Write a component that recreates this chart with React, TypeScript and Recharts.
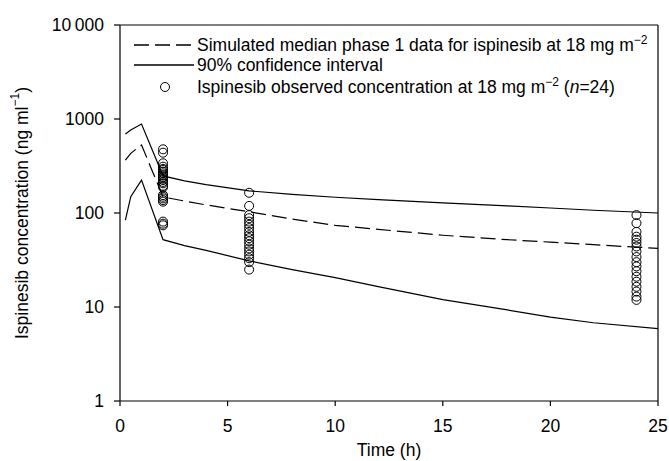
import { ComposedChart, Line, Scatter, XAxis, YAxis, ReferenceLine } from 'recharts';

// simulated profile (median + 90% CI), ng/ml vs hours
const simTimes = [0.25, 0.5, 1, 2, 3, 4, 6, 8, 10, 12, 15, 18, 20, 22, 25];
const medianConc = [366, 431, 530, 148, 134, 122, 103, 86, 74, 67, 58, 52, 49, 46, 42];
const upperConc = [692, 764, 885, 248, 220, 200, 172, 158, 147, 139, 128, 119, 113, 107, 100];
const lowerConc = [84, 149, 224, 52, 45, 40, 31, 25, 20.5, 16.5, 12, 9.3, 7.8, 6.8, 5.9];

// observed concentrations
const obsAt2h = [476, 438, 338, 311, 295, 287, 275, 264, 252, 243, 233, 224, 214, 207, 195, 188, 155, 149, 143, 137, 132, 81, 77, 74];
const obsAt6h = [164, 119, 95, 88, 81, 75, 69, 63, 58, 54, 50, 46, 42, 39, 36, 33, 30, 25];
const obsAt24h = [95, 78, 63, 56, 52, 48, 44, 39, 34, 30, 27, 24, 21, 18.6, 16.4, 14.6, 12.9, 11.9];

const xTicks = [0, 5, 10, 15, 20, 25];
const yTicks = [1, 10, 100, 1000, 10000];

const FONT = '"Liberation Sans", Arial, Helvetica, sans-serif';
const FS = 17.5;

const simData = simTimes.map((t, i) => ({
  t,
  median: medianConc[i],
  upper: upperConc[i],
  lower: lowerConc[i],
}));

const obsData = [
  ...obsAt2h.map((c) => ({ t: 2, c })),
  ...obsAt6h.map((c) => ({ t: 6, c })),
  ...obsAt24h.map((c) => ({ t: 24, c })),
];

const fmtY = (v: number) => (v === 10000 ? '10\u2009000' : String(v));

const OpenCircle = (props: any) => (
  <circle cx={props.cx} cy={props.cy} r={4.5} fill="none" stroke="#000" strokeWidth={1} />
);

const YLabel = () => (
  <text
    x={22}
    y={213}
    transform="rotate(-90 22 213)"
    textAnchor="middle"
    dominantBaseline="central"
    fontFamily={FONT}
    fontSize={FS}
    fill="#000"
  >
    Ispinesib concentration (ng ml
    <tspan dy={-7} fontSize={12}>−1</tspan>
    <tspan dy={7}>)</tspan>
  </text>
);

function LegendBox() {
  const textProps = { fontFamily: FONT, fontSize: FS, fill: '#000' };
  return (
    <svg
      width={669}
      height={461}
      style={{ position: 'absolute', left: 0, top: 0, pointerEvents: 'none' }}
    >
      <line x1={134} x2={194} y1={45} y2={45} stroke="#000" strokeWidth={1.3} strokeDasharray="15 6" />
      <text x={197} y={51} {...textProps}>
        Simulated median phase 1 data for ispinesib at 18 mg m
        <tspan dy={-7} fontSize={12}>−2</tspan>
      </text>
      <line x1={134} x2={194} y1={65} y2={65} stroke="#000" strokeWidth={1.3} />
      <text x={197} y={71} {...textProps}>90% confidence interval</text>
      <circle cx={165} cy={87} r={4.5} fill="none" stroke="#000" />
      <text x={197} y={93} {...textProps}>
        Ispinesib observed concentration at 18 mg m
        <tspan dy={-7} fontSize={12}>−2</tspan>
        <tspan dy={7}> (</tspan>
        <tspan fontStyle="italic">n</tspan>
        =24)
      </text>
    </svg>
  );
}

export default function App() {
  return (
    <div style={{ position: 'absolute', left: 0, top: 0, width: 669, height: 461, background: '#fff' }}>
      <ComposedChart
        width={669}
        height={461}
        margin={{ top: 25, right: 11, bottom: 0, left: 0 }}
      >
        <XAxis
          dataKey="t"
          type="number"
          domain={[0, 25]}
          ticks={xTicks}
          allowDataOverflow
          height={60}
          stroke="#000"
          strokeWidth={1.2}
          tickSize={5}
          tickMargin={14}
          tick={{ fill: '#000', fontSize: FS, fontFamily: FONT }}
          label={{ value: 'Time (h)', position: 'insideBottom', offset: 5, fill: '#000', fontSize: FS, fontFamily: FONT }}
        />
        <YAxis
          scale="log"
          domain={[1, 10000]}
          ticks={yTicks}
          allowDataOverflow
          width={120}
          stroke="#000"
          strokeWidth={1.2}
          tickSize={6}
          tickMargin={10}
          tickFormatter={fmtY}
          tick={{ fill: '#000', fontSize: FS, fontFamily: FONT }}
          label={{ content: YLabel }}
        />
        <ReferenceLine y={10000} stroke="#000" strokeWidth={1.2} />
        <ReferenceLine x={25} stroke="#000" strokeWidth={1.2} />
        <Line
          data={simData}
          dataKey="upper"
          type="linear"
          stroke="#000"
          strokeWidth={1.2}
          dot={false}
          isAnimationActive={false}
        />
        <Line
          data={simData}
          dataKey="lower"
          type="linear"
          stroke="#000"
          strokeWidth={1.2}
          dot={false}
          isAnimationActive={false}
        />
        <Line
          data={simData}
          dataKey="median"
          type="linear"
          stroke="#000"
          strokeWidth={1.2}
          strokeDasharray="15 6"
          dot={false}
          isAnimationActive={false}
        />
        <Scatter data={obsData} dataKey="c" shape={OpenCircle} isAnimationActive={false} />
      </ComposedChart>
      <LegendBox />
    </div>
  );
}
